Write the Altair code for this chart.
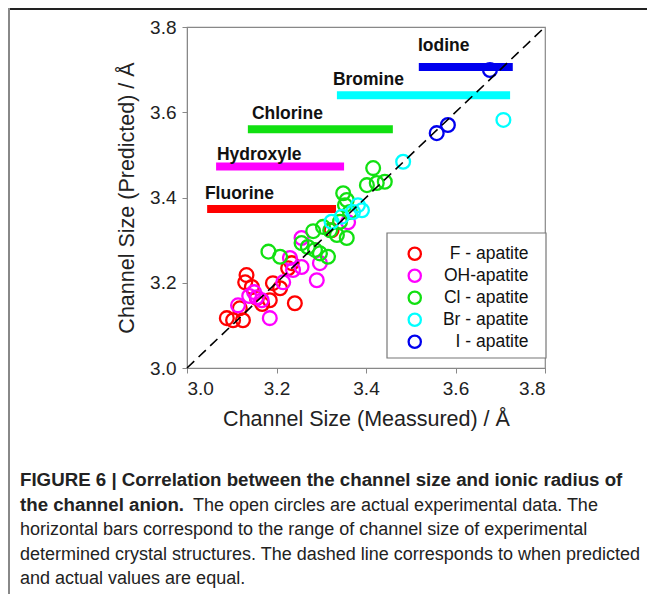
import altair as alt
import pandas as pd

# ---- data ----
series_names = ["F - apatite", "OH-apatite", "Cl - apatite", "Br - apatite", "I  - apatite"]
series_colors = ["#FF0000", "#FF00FF", "#11E011", "#00FFFF", "#0000EE"]

F_x = [3.089, 3.103, 3.125, 3.118, 3.133, 3.130, 3.145, 3.156, 3.192, 3.208, 3.185, 3.241, 3.234, 3.226, 3.323, 3.168]
F_y = [3.117, 3.112, 3.112, 3.140, 3.218, 3.201, 3.190, 3.164, 3.199, 3.187, 3.159, 3.152, 3.246, 3.234, 3.323, 3.150]

OH_x = [3.256, 3.230, 3.256, 3.237, 3.297, 3.290, 3.215, 3.114, 3.150, 3.156, 3.167, 3.185, 3.360, 3.139]
OH_y = [3.305, 3.258, 3.237, 3.230, 3.246, 3.206, 3.201, 3.147, 3.178, 3.166, 3.159, 3.117, 3.342, 3.169]

Cl_x = [3.182, 3.208, 3.256, 3.270, 3.286, 3.297, 3.315, 3.304, 3.320, 3.335, 3.357, 3.342, 3.349, 3.357,
        3.364, 3.353, 3.416, 3.402, 3.424, 3.442, 3.282]
Cl_y = [3.273, 3.261, 3.293, 3.284, 3.277, 3.269, 3.261, 3.331, 3.323, 3.312, 3.305, 3.343, 3.410, 3.394,
        3.366, 3.382, 3.469, 3.429, 3.434, 3.437, 3.321]

Br_x = [3.323, 3.346, 3.371, 3.382, 3.391, 3.483, 3.707]
Br_y = [3.343, 3.355, 3.366, 3.382, 3.370, 3.484, 3.582]

I_x = [3.677, 3.558, 3.583]
I_y = [3.699, 3.551, 3.570]

bar_names = ["Fluorine", "Hydroxyle", "Chlorine", "Bromine", "Iodine"]
bar_start = [3.045, 3.065, 3.136, 3.335, 3.518]
bar_end = [3.333, 3.351, 3.460, 3.722, 3.728]
bar_level = [3.373, 3.473, 3.560, 3.640, 3.706]
bar_colors = ["#FF0000", "#FF00FF", "#11E011", "#00FFFF", "#0000EE"]
label_x = [3.040, 3.067, 3.145, 3.326, 3.516]
label_y = [3.408, 3.500, 3.596, 3.676, 3.755]

axis_ticks = [3.0, 3.2, 3.4, 3.6, 3.8]

caption_bold_1 = "FIGURE 6 | Correlation between the channel size and ionic radius of"
caption_bold_2 = "the channel anion."
caption_norm_2 = "The open circles are actual experimental data. The"
caption_norm_3 = "horizontal bars correspond to the range of channel size of experimental"
caption_norm_4 = "determined crystal structures. The dashed line corresponds to when predicted"
caption_norm_5 = "and actual values are equal."

# ---- tables ----
rows = []
for name, xs, ys in zip(series_names, [F_x, OH_x, Cl_x, Br_x, I_x], [F_y, OH_y, Cl_y, Br_y, I_y]):
    for a, b in zip(xs, ys):
        rows.append({"series": name, "meas": a, "pred": b})
pts = pd.DataFrame(rows)

bars = pd.DataFrame({"name": bar_names, "x0": bar_start, "x1": bar_end, "y": bar_level,
                     "lx": label_x, "ly": label_y})
diag = pd.DataFrame({"meas": [axis_ticks[0], axis_ticks[-1]], "pred": [axis_ticks[0], axis_ticks[-1]]})
dummy = pd.DataFrame({"a": [0]})

FONT = "Liberation Sans"
xscale = alt.Scale(domain=[3.0, 3.8], nice=False, zero=False)
yscale = alt.Scale(domain=[3.0, 3.8], nice=False, zero=False)

xaxis = alt.Axis(title="Channel Size (Meassured) / Å", values=axis_ticks, format=".1f", grid=False,
                 titlePadding=10)
yaxis = alt.Axis(title="Channel Size (Predicted) / Å", values=axis_ticks, format=".1f", grid=False,
                 titlePadding=11)

bar_layer = alt.Chart(bars).mark_rule(strokeWidth=8).encode(
    x=alt.X("x0:Q", scale=xscale, axis=xaxis),
    x2="x1:Q",
    y=alt.Y("y:Q", scale=yscale, axis=yaxis),
    stroke=alt.Stroke("name:N", scale=alt.Scale(domain=bar_names, range=bar_colors), legend=None),
)

label_layer = alt.Chart(bars).mark_text(align="left", baseline="middle", font=FONT, fontSize=17.5,
                                        fontWeight="bold", color="#111").encode(
    x=alt.X("lx:Q", scale=xscale),
    y=alt.Y("ly:Q", scale=yscale),
    text="name:N",
)

legend_box = alt.Chart(dummy).mark_rect(fill="white", stroke="#777", strokeWidth=1.2).encode(
    x=alt.value(200), x2=alt.value(359), y=alt.value(206), y2=alt.value(331))

point_layer = alt.Chart(pts).mark_point(shape="circle", filled=False, size=190, strokeWidth=2.3,
                                        opacity=1).encode(
    x=alt.X("meas:Q", scale=xscale),
    y=alt.Y("pred:Q", scale=yscale),
    color=alt.Color("series:N", sort=series_names,
                    scale=alt.Scale(domain=series_names, range=series_colors),
                    legend=alt.Legend(title=None, orient="none", legendX=219, legendY=218,
                                      direction="vertical", padding=0,
                                      labelFontSize=17.5, labelFont=FONT, labelColor="#111",
                                      symbolSize=150, symbolStrokeWidth=2.3, symbolType="circle",
                                      rowPadding=0, labelAlign="right", labelOffset=105)),
)

diag_layer = alt.Chart(diag).mark_line(strokeDash=[10, 6], color="black", strokeWidth=1.6).encode(
    x=alt.X("meas:Q", scale=xscale),
    y=alt.Y("pred:Q", scale=yscale),
)

def cap(text, x, y, bold):
    return alt.Chart(dummy).mark_text(align="left", baseline="alphabetic", font=FONT,
                                      fontSize=18.7 if bold else 18,
                                      fontWeight="bold" if bold else "normal", color="#222",
                                      text=text).encode(x=alt.value(x), y=alt.value(y))

captions = [
    cap(caption_bold_1, -167, 459, True),
    cap(caption_bold_2, -167, 484, True),
    cap(caption_norm_2, 6, 484, False),
    cap(caption_norm_3, -167, 508, False),
    cap(caption_norm_4, -167, 533, False),
    cap(caption_norm_5, -167, 557, False),
]

border_top = alt.Chart(dummy).mark_rule(color="#222", strokeWidth=2).encode(
    x=alt.value(-179), x2=alt.value(460), y=alt.value(-18))
border_left = alt.Chart(dummy).mark_rule(color="#888", strokeWidth=2).encode(
    x=alt.value(-178), y=alt.value(-19), y2=alt.value(567))

chart = alt.layer(bar_layer, label_layer, legend_box, point_layer, diag_layer, *captions,
                  border_top, border_left).resolve_scale(
    color="independent", stroke="independent"
).properties(
    width=358, height=341,
    padding={"left": 179, "top": 19, "right": 102, "bottom": 226},
    autosize=alt.AutoSizeParams(type="none"),
).configure_view(stroke="#888", strokeWidth=1.2).configure_axis(
    labelFont=FONT, titleFont=FONT, labelFontSize=19, titleFontSize=21.5, titleFontWeight="normal",
    labelColor="#222", titleColor="#222", domainColor="#888", tickColor="#888", tickSize=5,
    labelPadding=6, domain=True,
)

chart.save("out.html", embed_options={"renderer": "svg", "actions": False})
